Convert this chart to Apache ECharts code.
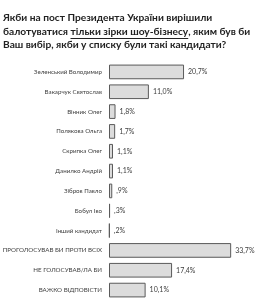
<!DOCTYPE html>
<html><head><meta charset="utf-8">
<script src="https://cdn.jsdelivr.net/npm/echarts@6/dist/echarts.min.js"></script>
<style>html,body{margin:0;padding:0;background:#fff}#c{width:257px;height:300px}</style>
</head><body><div id="c"></div>
<script>
var categories = ['Зеленський Володимир','Вакарчук Святослав','Вінник Олег','Полякова Ольга','Скрипка Олег','Данилко Андрій','Зібров Павло','Бобул Іво','Інший кандидат','ПРОГОЛОСУВАВ БИ ПРОТИ ВСІХ','НЕ ГОЛОСУВАВ/ЛА БИ','ВАЖКО ВІДПОВІСТИ'];
var values = [20.7, 11.0, 1.8, 1.7, 1.1, 1.1, 0.9, 0.3, 0.2, 33.7, 17.4, 10.1];
var valueLabels = ['20,7%','11,0%','1,8%','1,7%','1,1%','1,1%',',9%',',3%',',2%','33,7%','17,4%','10,1%'];
var titleLines = ['Якби на пост Президента України вирішили', 'балотуватися ', 'тільки зірки шоу-бізнесу', ', яким був би', 'Ваш вибір, якби у списку були такі кандидати?'];

var FF = 'Lato';
function draw(){
  var chart = echarts.init(document.getElementById('c'), null, {renderer:'canvas'});
  var cv = document.createElement('canvas').getContext('2d');
  cv.font = 'bold 12px "' + FF + '"';
  var wMax = Math.max(
    cv.measureText(titleLines[0]).width,
    cv.measureText(titleLines[1] + titleLines[2] + titleLines[3]).width,
    cv.measureText(titleLines[4]).width);
  var titleSize = Math.round(12 * 246 / wMax * 10) / 10;
  cv.font = 'bold ' + titleSize + 'px "' + FF + '"';
  var ulX = 3 + cv.measureText(titleLines[1]).width;
  var ulW = cv.measureText(titleLines[2]).width;
  chart.setOption({
    animation:false,
    title:{
      left:3, top:11, padding:0,
      text:'{n|'+titleLines[0]+'}\n{n|'+titleLines[1]+'}{n|'+titleLines[2]+'}{n|'+titleLines[3]+'}\n{n|'+titleLines[4]+'}',
      textStyle:{rich:{n:{fontFamily:FF,fontWeight:'bold',fontSize:titleSize,color:'#222',lineHeight:13.5}}}
    },
    graphic:[{type:'line',shape:{x1:ulX,y1:38.5,x2:ulX+ulW,y2:38.5},style:{stroke:'#222',lineWidth:1}}],
    grid:{left:109,right:3,top:62,bottom:0,containLabel:false,outerBoundsMode:'none'},
    xAxis:{type:'value',min:0,max:40,show:false},
    yAxis:{type:'category',data:categories,inverse:true,
      axisLine:{show:false},axisTick:{show:false},
      axisLabel:{margin:7,fontSize:6.2,fontFamily:FF,color:'#404040'}},
    series:[{type:'bar',data:values,barCategoryGap:'26%',
      itemStyle:{color:'#dcdcdc',borderColor:'#5a5a5a',borderWidth:1},
      label:{show:true,position:'right',distance:4,fontSize:7,fontFamily:FF,color:'#404040',
        formatter:function(p){return valueLabels[p.dataIndex];}}}]
  });
}
if (document.fonts && document.fonts.load) {
  Promise.all([document.fonts.load('bold 12px Lato'), document.fonts.load('7px Lato')]).then(draw, draw);
} else { draw(); }
</script></body></html>
